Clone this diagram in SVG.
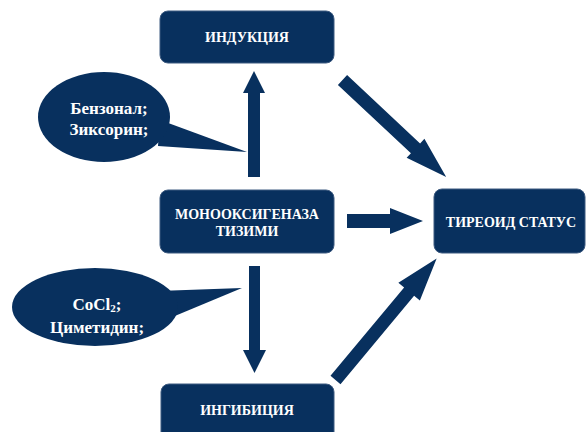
<svg xmlns="http://www.w3.org/2000/svg" width="586" height="432" viewBox="0 0 586 432">
<style>
.box{fill:#08305e;stroke:#3d5a80;stroke-width:1}
.sh{fill:#08305e}
.t{font-family:"Liberation Serif","Times New Roman",serif;font-weight:bold;fill:#ffffff;text-anchor:middle;dominant-baseline:central}
.bt{font-size:14px}
.ct{font-size:17px}
</style>
<rect width="586" height="432" fill="#ffffff"/>
<g id="connectors" class="sh">
  <polygon id="arrow-up" points="248,177 260,177 260,93 265,93 254,71 243,93 248,93"/>
  <polygon id="arrow-down" points="249,266 260,266 260,350 266,350 254.5,373 243,350 249,350"/>
  <polygon id="arrow-right" points="347,214 390,214 390,208 423,221 390,234 390,228 347,228"/>
  <polygon id="arrow-diag-top" transform="translate(342.5,80) rotate(43.1)" points="0,-6.7 100,-6.7 100,-13 142,0 100,13 100,6.7 0,6.7"/>
  <polygon id="arrow-diag-bottom" transform="translate(335.5,380) rotate(-50.2)" points="0,-6.5 115,-6.5 115,-14 158,0 115,14 115,6.5 0,6.5"/>
</g>
<g id="node-induktsiya">
  <rect class="box" x="160" y="11" width="174" height="52" rx="8"/>
  <text class="t bt" x="247" y="37">ИНДУКЦИЯ</text>
</g>
<g id="node-monooksigenaza">
  <rect class="box" x="160" y="190" width="174" height="63" rx="8"/>
  <text class="t bt" x="247" y="214">МОНООКСИГЕНАЗА</text>
  <text class="t bt" x="247" y="231">ТИЗИМИ</text>
</g>
<g id="node-tireoid">
  <rect class="box" x="434" y="189" width="151" height="64" rx="8"/>
  <text class="t bt" x="511" y="222">ТИРЕОИД СТАТУС</text>
</g>
<g id="node-ingibitsiya">
  <rect class="box" x="161" y="384" width="173" height="60" rx="8"/>
  <text class="t bt" x="247" y="410">ИНГИБИЦИЯ</text>
</g>
<g id="callout-induktors">
  <polygon class="sh" points="160,120 247,152 158,146"/>
  <ellipse class="sh" cx="104" cy="117" rx="66" ry="45"/>
  <text class="t ct" x="109" y="108">Бензонал;</text>
  <text class="t ct" x="109" y="129">Зиксорин;</text>
</g>
<g id="callout-ingibitors">
  <polygon class="sh" points="158,291 242,288 170,318"/>
  <ellipse class="sh" cx="95" cy="307" rx="83" ry="39"/>
  <text class="t ct" x="97" y="304">CoCl<tspan font-size="11" dy="4">2</tspan><tspan dy="-4">;</tspan></text>
  <text class="t ct" x="97" y="327">Циметидин;</text>
</g>
</svg>
